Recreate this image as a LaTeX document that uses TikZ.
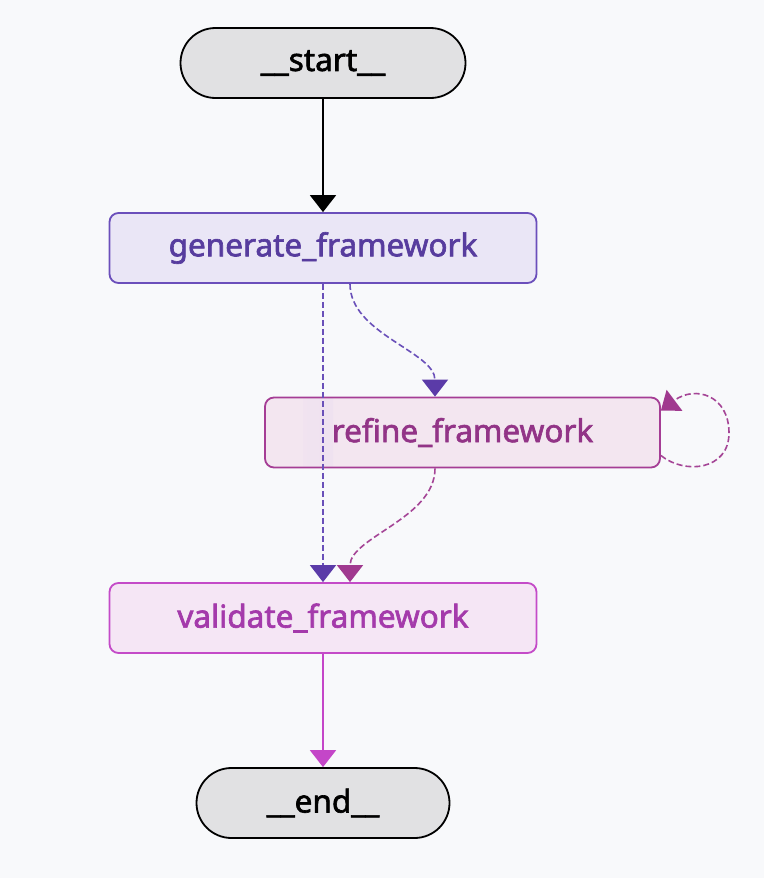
\documentclass[tikz,border=0pt]{standalone}
\usepackage{fontspec}
\setmainfont{Noto Sans}
\usetikzlibrary{arrows.meta,calc}
\definecolor{bg}{HTML}{F8F9FB}
\definecolor{termfill}{HTML}{E1E1E3}
\definecolor{genfill}{HTML}{EAE6F6}
\definecolor{gendraw}{HTML}{6B4FBB}
\definecolor{gentext}{HTML}{573C9E}
\definecolor{reffill}{HTML}{F3E6F0}
\definecolor{refband}{HTML}{E7D9EF}
\definecolor{refdraw}{HTML}{A53D95}
\definecolor{reftext}{HTML}{923487}
\definecolor{valfill}{HTML}{F5E6F5}
\definecolor{valdraw}{HTML}{C44BC8}
\definecolor{valtext}{HTML}{A43AAB}
\definecolor{genedge}{HTML}{6A50B9}
\definecolor{gentip}{HTML}{5B3BA8}
\definecolor{refedge}{HTML}{A54596}
\definecolor{reftip}{HTML}{A0398F}
\definecolor{valedge}{HTML}{C446C8}
\tikzset{
  lbl/.style={font=\fontsize{31.5}{34}\selectfont\addfontfeature{FakeBold=2}},
  term/.style={draw=black, fill=termfill, line width=1.8pt, rounded corners=35pt,
    minimum height=70pt, inner sep=0pt, lbl, text=black},
  box/.style={line width=1.8pt, rounded corners=9pt, minimum width=427pt,
    minimum height=70pt, inner sep=0pt, lbl},
  edge/.style={line width=2pt},
  dedge/.style={line width=1.6pt, dash pattern=on 6pt off 3pt},
  tipc/.style={-{Triangle[length=17pt,width=26pt,color=#1,fill=#1]}},
}
\begin{document}
\begin{tikzpicture}[x=1pt,y=-1pt]
\fill[bg] (0,0) rectangle (764,878);
\useasboundingbox (0,0) rectangle (764,878);

\node[term, minimum width=285pt] (start) at (323,63) {\_\_start\_\_};
\node[box, draw=gendraw, fill=genfill, text=gentext] (gen) at (323,248) {generate\_framework};
\node[box, draw=refdraw, fill=reffill, text=reftext, minimum width=395pt,
  path picture={\shade[left color=reffill, right color=reffill, middle color=refband, rounded corners=0pt]
    ([xshift=38pt]path picture bounding box.north west) rectangle
    ([xshift=68pt]path picture bounding box.south west);}]
  (ref) at (462.5,432.5) {refine\_framework};
\node[box, draw=valdraw, fill=valfill, text=valtext] (val) at (323,618) {validate\_framework};
\node[term, minimum width=253pt] (end) at (323,803) {\_\_end\_\_};

\coordinate (loopR) at (729,433);

\draw[edge, draw=black, tipc=black] (start) -- (gen);
\draw[dedge, draw=genedge, tipc=gentip] (gen.south) -- (val.north);
\draw[dedge, draw=genedge, tipc=gentip]
  ([xshift=27pt]gen.south) .. controls +(0,50) and +(0,-45) .. ([xshift=-27.5pt]ref.north);
\draw[dedge, draw=refedge, tipc=reftip]
  ([xshift=-27.5pt]ref.south) .. controls +(0,50) and +(0,-45) .. ([xshift=27pt]val.north);
\draw[dedge, draw=refedge, tipc=reftip]
  ([yshift=-23pt]ref.east) .. controls (685,475) and (729,470) .. (loopR)
  .. controls (729,395) and (695,385) .. ([yshift=22pt]ref.east);
\draw[edge, draw=valedge, tipc=valedge] (val) -- (end);
\end{tikzpicture}
\end{document}
